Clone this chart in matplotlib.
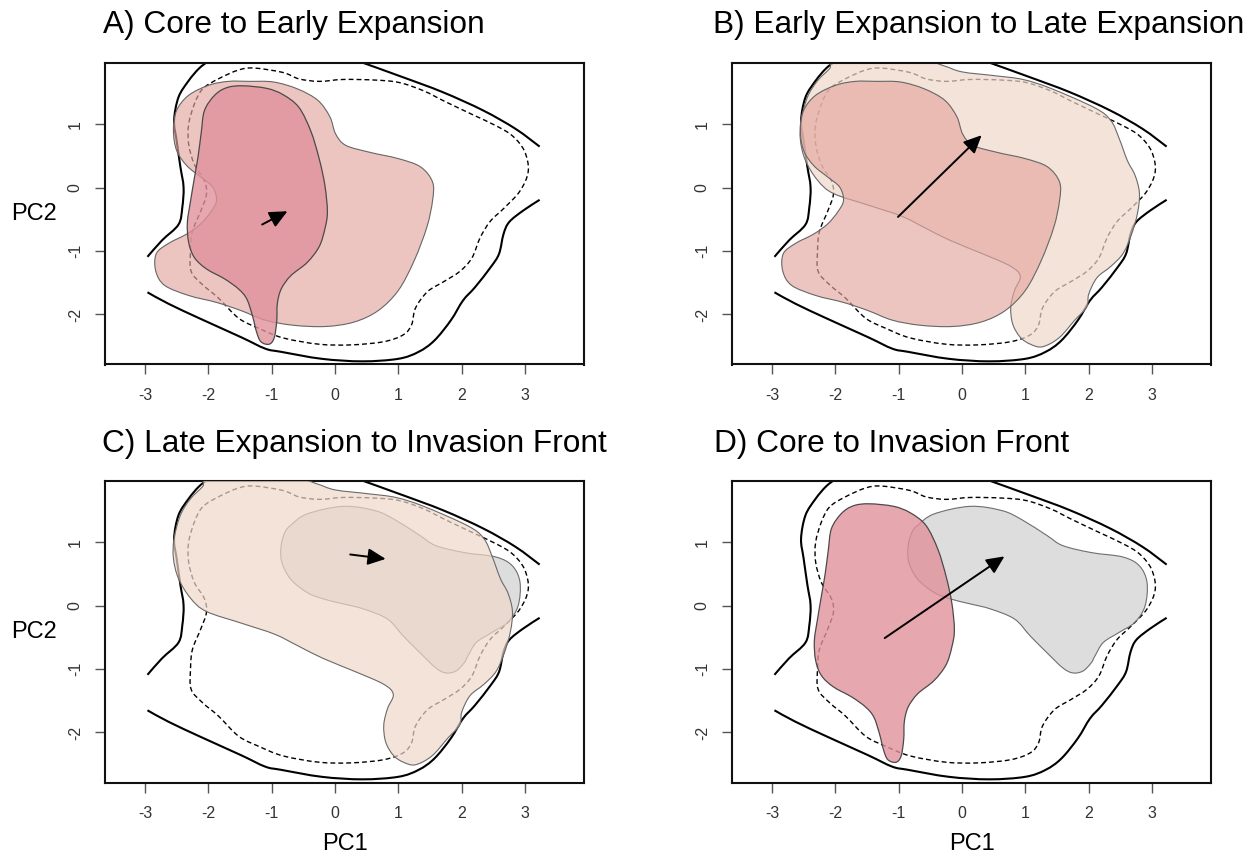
import numpy as np
import matplotlib
matplotlib.use("Agg")
import matplotlib.pyplot as plt
from matplotlib.path import Path
from matplotlib.patches import PathPatch

plt.rcParams['font.family'] = ['Liberation Sans', 'DejaVu Sans']

# background environment contours (same in all panels)
outer_left_x = [-2.96, -2.73, -2.47, -2.41, -2.39, -2.44, -2.50, -2.54, -2.47, -2.31, -2.15, -2.00]
outer_left_y = [-1.09, -0.83, -0.58, -0.31, 0.01, 0.33, 0.75, 1.06, 1.43, 1.69, 1.88, 2.00]

outer_right_x = [0.45, 1.06, 1.70, 2.34, 2.85, 3.23]
outer_right_y = [1.97, 1.75, 1.51, 1.22, 0.93, 0.65]

outer_bottom_x = [3.23, 2.97, 2.75, 2.66, 2.59, 2.46, 2.21, 2.02, 1.83, 1.57, 1.32, 1.00,
                  0.43, -0.21, -0.85, -1.10, -1.48, -2.12, -2.63, -2.96]
outer_bottom_y = [-0.19, -0.36, -0.54, -0.73, -1.04, -1.25, -1.57, -1.78, -2.09, -2.41, -2.59, -2.70,
                  -2.74, -2.70, -2.59, -2.54, -2.36, -2.07, -1.83, -1.65]

dashed_x = [-2.09, -2.22, -2.31, -2.31, -2.22, -2.06, -2.03, -2.12, -2.25, -2.28, -2.27, -2.09,
            -1.84, -1.52, -1.20, -0.82, -0.25, 0.26, 0.77, 1.08, 1.21, 1.27, 1.46, 1.72,
            1.97, 2.16, 2.29, 2.45, 2.67, 2.92, 3.05, 2.99, 2.80, 2.54, 2.16, 1.72,
            1.40, 1.02, 0.64, 0.13, -0.25, -0.57, -0.82, -1.27, -1.52, -1.84]
dashed_y = [1.56, 1.32, 1.00, 0.69, 0.37, 0.11, -0.11, -0.37, -0.69, -1.00, -1.32, -1.53,
            -1.74, -2.06, -2.22, -2.37, -2.47, -2.48, -2.43, -2.32, -2.16, -1.90, -1.64, -1.48,
            -1.32, -1.11, -0.79, -0.53, -0.32, -0.05, 0.26, 0.58, 0.82, 0.98, 1.16, 1.37,
            1.53, 1.66, 1.70, 1.71, 1.68, 1.72, 1.82, 1.89, 1.86, 1.72]

# niche outlines per range stage
core_x = [-1.46, -1.08, -0.82, -0.57, -0.38, -0.25, -0.16, -0.12, -0.16, -0.25, -0.44, -0.70,
          -0.85, -0.91, -0.92, -0.96, -1.04, -1.17, -1.24, -1.30, -1.39, -1.52, -1.74, -2.03,
          -2.22, -2.31, -2.33, -2.28, -2.22, -2.16, -2.11, -2.06, -1.90, -1.71]
core_y = [1.61, 1.57, 1.47, 1.27, 0.89, 0.46, 0.04, -0.38, -0.65, -0.93, -1.18, -1.39,
          -1.60, -1.83, -2.11, -2.37, -2.47, -2.43, -2.27, -2.03, -1.76, -1.60, -1.44, -1.28,
          -1.10, -0.86, -0.55, -0.21, 0.15, 0.50, 0.88, 1.22, 1.46, 1.58]

early_x = [-1.36, -0.97, -0.59, -0.27, -0.08, 0.01, 0.17, 0.55, 1.00, 1.35, 1.54, 1.54,
           1.45, 1.25, 1.00, 0.68, 0.30, -0.15, -0.66, -1.10, -1.48, -1.87, -2.31, -2.69,
           -2.83, -2.82, -2.63, -2.34, -2.12, -1.96, -1.87, -1.93, -2.12, -2.34, -2.50, -2.55,
           -2.50, -2.31, -1.99, -1.68]
early_y = [1.68, 1.67, 1.56, 1.38, 1.12, 0.85, 0.67, 0.56, 0.46, 0.33, 0.09, -0.20,
           -0.62, -1.15, -1.62, -1.94, -2.12, -2.19, -2.17, -2.09, -1.94, -1.81, -1.70, -1.54,
           -1.31, -1.04, -0.88, -0.73, -0.57, -0.38, -0.20, 0.01, 0.17, 0.35, 0.59, 0.91,
           1.22, 1.46, 1.62, 1.68]

late_x = [-1.95, -2.09, -2.28, -2.44, -2.54, -2.55, -2.47, -2.28, -2.03, -1.46, -0.95, -0.57,
          -0.19, 0.32, 0.77, 0.92, 0.83, 0.77, 0.80, 0.92, 1.08, 1.27, 1.53, 1.78,
          1.97, 2.00, 2.13, 2.35, 2.54, 2.67, 2.77, 2.80, 2.73, 2.61, 2.48, 2.35,
          2.10, 1.40, 0.96, 0.51, 0.00, -0.30, -0.75]
late_y = [2.05, 1.88, 1.69, 1.43, 1.06, 0.75, 0.43, 0.12, -0.09, -0.28, -0.45, -0.64,
          -0.83, -1.04, -1.24, -1.40, -1.62, -1.88, -2.15, -2.36, -2.47, -2.51, -2.37, -2.09,
          -1.88, -1.68, -1.42, -1.24, -1.04, -0.75, -0.40, -0.08, 0.20, 0.43, 0.78, 1.06,
          1.26, 1.57, 1.71, 1.77, 1.83, 1.93, 2.05]

front_x = [-0.70, -0.44, 0.13, 0.64, 0.96, 1.34, 1.59, 2.04, 2.54, 2.80, 2.92, 2.89,
           2.73, 2.48, 2.23, 2.10, 2.04, 1.91, 1.75, 1.59, 1.34, 1.08, 0.83, 0.45,
           0.13, -0.19, -0.44, -0.70, -0.84, -0.85, -0.79]
front_y = [1.27, 1.45, 1.57, 1.50, 1.35, 1.11, 0.95, 0.84, 0.77, 0.63, 0.37, 0.00,
           -0.26, -0.42, -0.58, -0.79, -0.90, -1.03, -1.06, -0.98, -0.74, -0.48, -0.21, -0.05,
           0.03, 0.11, 0.21, 0.42, 0.69, 0.95, 1.16]

# centroid shift arrows (start -> end) for panels A-D
arrow_x0 = [-1.15, -1.01, 0.24, -1.22]
arrow_y0 = [-0.58, -0.46, 0.81, -0.51]
arrow_x1 = [-0.75, 0.31, 0.80, 0.67]
arrow_y1 = [-0.37, 0.83, 0.74, 0.78]

titles = ["A) Core to Early Expansion", "B) Early Expansion to Late Expansion",
          "C) Late Expansion to Invasion Front", "D) Core to Invasion Front"]

xticks = [-3, -2, -1, 0, 1, 2, 3]
yticks = [-2, -1, 0, 1]

# fill / edge styles per stage
styles = {
    'core':  dict(fc=(0.878, 0.569, 0.608, 0.8), ec='#4a4a4a', lw=0.9),
    'early': dict(fc=(0.894, 0.651, 0.620, 0.65), ec='#666666', lw=0.8),
    'late':  dict(fc=(0.937, 0.847, 0.792, 0.7), ec='#6a6a6a', lw=0.8),
    'front': dict(fc=(0.749, 0.741, 0.749, 0.5), ec='#6e6e6e', lw=0.8),
}
outlines = {'core': (core_x, core_y), 'early': (early_x, early_y),
            'late': (late_x, late_y), 'front': (front_x, front_y)}
# drawing order (bottom first) for each panel
panel_stages = [['early', 'core'], ['late', 'early'], ['front', 'late'], ['front', 'core']]


def smooth_path(xs, ys, closed):
    pts = np.column_stack([xs, ys]).astype(float)
    n = len(pts)
    verts = [pts[0]]
    codes = [Path.MOVETO]
    segs = n if closed else n - 1
    for i in range(segs):
        p0 = pts[(i - 1) % n] if (closed or i > 0) else pts[0]
        p1 = pts[i]
        p2 = pts[(i + 1) % n]
        p3 = pts[(i + 2) % n] if (closed or i + 2 < n) else pts[n - 1]
        verts += [p1 + (p2 - p0) / 6, p2 - (p3 - p1) / 6, p2]
        codes += [Path.CURVE4] * 3
    if closed:
        verts.append(pts[0])
        codes.append(Path.CLOSEPOLY)
    return Path(verts, codes)


W, H = 1258, 861
fig = plt.figure(figsize=(W / 100, H / 100), dpi=100)

# axes boxes in pixels: left, top
boxes = [(105, 63), (732, 63), (105, 481), (732, 481)]
bw, bh = 479, 301.5
title_pos = [(103, 33), (713, 33), (102, 452), (714, 452)]

for k in range(4):
    left, top = boxes[k]
    ax = fig.add_axes([left / W, 1 - (top + bh) / H, bw / W, bh / H])
    ax.set_xlim(-3.63, 3.93)
    ax.set_ylim(-2.79, 1.97)

    # environment contours
    for xs, ys in [(outer_left_x, outer_left_y), (outer_right_x, outer_right_y),
                   (outer_bottom_x, outer_bottom_y)]:
        ax.add_patch(PathPatch(smooth_path(xs, ys, False), fill=False, ec='black',
                               lw=1.5, zorder=1))
    ax.add_patch(PathPatch(smooth_path(dashed_x, dashed_y, True), fill=False, ec='black',
                           lw=1.0, ls=(0, (3.5, 2.2)), zorder=1))

    # niches
    for z, stage in enumerate(panel_stages[k]):
        xs, ys = outlines[stage]
        st = styles[stage]
        ax.add_patch(PathPatch(smooth_path(xs, ys, True), fc=st['fc'], ec=st['ec'],
                               lw=st['lw'], zorder=2 + z))

    ax.annotate('', xy=(arrow_x1[k], arrow_y1[k]), xytext=(arrow_x0[k], arrow_y0[k]),
                arrowprops=dict(arrowstyle='-|>,head_length=0.9,head_width=0.42',
                                mutation_scale=12, lw=1.4, color='black',
                                shrinkA=0, shrinkB=0), zorder=5)

    ax.set_xticks(xticks)
    ax.set_xticklabels([str(v) for v in xticks])
    ax.set_yticks(yticks)
    ax.set_yticklabels([str(v) for v in yticks], rotation=90, va='center')
    ax.tick_params(direction='out', length=7, width=1, color='#555555',
                   labelsize=11.5, labelcolor='#333333')
    ax.tick_params(axis='x', pad=10)
    ax.tick_params(axis='y', pad=9)
    for sp in ax.spines.values():
        sp.set_linewidth(1.5)
        sp.set_color('#111111')

    tx, ty = title_pos[k]
    fig.text(tx / W, 1 - ty / H, titles[k], ha='left', va='baseline', fontsize=22.8)

    if k in (0, 2):
        fig.text(34 / W, 1 - (top + bh / 2) / H, 'PC2', ha='center', va='center', fontsize=17)
    if k in (2, 3):
        fig.text((left + bw / 2) / W, 1 - 844 / H, 'PC1', ha='center', va='center', fontsize=17)

fig.savefig('out.png', dpi=100)
